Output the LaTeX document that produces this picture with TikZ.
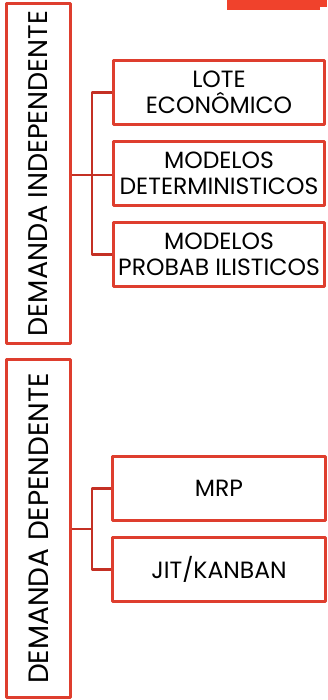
\documentclass[tikz,border=0pt]{standalone}
\usepackage{fontspec}
\setmainfont{Poppins}
\definecolor{boxred}{RGB}{222,62,46}
\definecolor{linered}{RGB}{196,48,36}
\definecolor{barred}{RGB}{240,66,44}
\begin{document}
\begin{tikzpicture}[x=1pt, y=-1pt, line join=round,
	bigbox/.style={draw=boxred, line width=2.6pt, rotate=90, inner sep=0pt, font=\fontsize{28}{32}\selectfont},
	itembox/.style={draw=boxred, line width=2.6pt, minimum width=211pt, minimum height=64pt, inner sep=0pt, align=center, font=\fontsize{23.5}{26}\selectfont},
	conn/.style={draw=linered, line width=2.6pt}]
	\useasboundingbox (0,0) rectangle (327,700);
	
	\fill[barred] (227,0) rectangle (320,10);
	\fill[barred] (320,0) rectangle (327,7);
	
	\node[bigbox, minimum width=340pt, minimum height=64pt, font=\fontsize{27}{32}\selectfont] (indep) at (38.5,173.5) {DEMANDA INDEPENDENTE};
	\node[bigbox, minimum width=338pt, minimum height=64pt] (dep) at (38.5,528.5) {DEMANDA DEPENDENTE};
	
	\node[itembox] (lote) at (219,92.5) {LOTE\\ECONÔMICO};
	\node[itembox] (det) at (219,173.5) {MODELOS\\DETERMINISTICOS};
	\node[itembox] (prob) at (219,254.5) {MODELOS\\PROBAB ILISTICOS};
	
	\node[itembox, minimum width=213pt] (mrp) at (219,488.5) {MRP};
	\node[itembox, minimum width=213pt] (jit) at (219,569.5) {JIT/KANBAN};
	
	\coordinate (ja) at (92,175);
	\coordinate (jb) at (92,529);
	
	\draw[conn] (indep.south |- ja) -- (ja);
	\draw[conn] (lote.west) -| (ja) |- (prob.west);
	\draw[conn] (ja) -- (det.west |- ja);
	
	\draw[conn] (dep.south |- jb) -- (jb);
	\draw[conn] (mrp.west) -| (jb) |- (jit.west);
\end{tikzpicture}
\end{document}
